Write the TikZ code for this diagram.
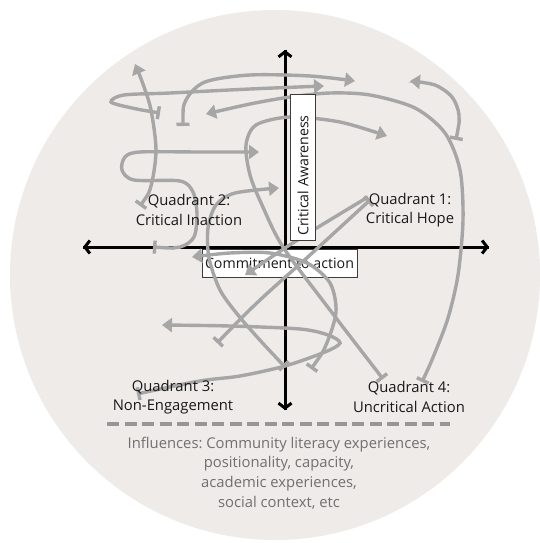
\documentclass[tikz,border=0pt]{standalone}
\usepackage{fontspec}
\setmainfont{Open Sans}
\usetikzlibrary{arrows.meta}
\frenchspacing

\definecolor{disc}{RGB}{238,235,233}
\definecolor{scribble}{RGB}{166,166,166}
\definecolor{dashgray}{RGB}{150,150,150}
\definecolor{influ}{RGB}{112,112,112}
\definecolor{boxline}{RGB}{60,60,60}

\tikzset{
  axis/.style={line width=3pt, black, -{Straight Barb[length=5pt,width=13pt]}},
  path/.style={line width=3.4pt, scribble, line cap=butt},
  tri/.style={path, -{Triangle[length=10pt,width=14pt]}},
  bartri/.style={path, {Bar[width=13pt]}-{Triangle[length=10pt,width=14pt]}},
  barbar/.style={path, {Bar[width=13pt]}-{Bar[width=13pt]}},
  quad/.style={font=\fontsize{14.8}{19.5}\selectfont, align=center, text=black!90},
  labelbox/.style={draw=boxline, line width=0.8pt, fill=white},
  labeltext/.style={font=\fontsize{14.2}{16}\selectfont, text=black!90, inner sep=0pt},
  influence/.style={font=\fontsize{14.8}{19.7}\selectfont, align=center, text=influ}
}

\begin{document}
\begin{tikzpicture}[x=1pt, y=-1pt]
  \useasboundingbox (0,0) rectangle (539,543);
  \fill[disc] (275,275) circle[radius=265pt];

  % axes
  \coordinate (yb) at (285,410);
  \coordinate (yt) at (285,50);
  \coordinate (xl) at (83,247);
  \coordinate (xr) at (489,247);
  \draw[axis] (yb) -- (yt);
  \draw[axis] (xr) -- (xl);
  \draw[axis] (xl) -- (xr);
  \draw[axis] (yt) -- (yb);

  % horizontal-axis label box (underneath the scribbles)
  \draw[labelbox] (202,249) rectangle (357,277);
  \node[labeltext] (commit) at (279.5,263.5) {Commitment to action};

  % free ends of the scribbled paths
  \coordinate (a1) at (140,206);  \coordinate (a2) at (135,64);
  \coordinate (b1) at (160,113);  \coordinate (b2) at (324,86);
  \coordinate (c1) at (183,126);  \coordinate (c2) at (355,81);
  \coordinate (d1) at (422,382);  \coordinate (d2) at (206,114);
  \coordinate (e1) at (153,247);  \coordinate (e2) at (259,152);
  \coordinate (f1) at (383,379);  \coordinate (f2) at (387,136);
  \coordinate (g1) at (456,140);  \coordinate (g2) at (410,81);
  \coordinate (h1) at (285,367);  \coordinate (h2) at (279,188);
  \coordinate (q1) at (368,197);  \coordinate (i2) at (245,275);
  \coordinate (j1) at (217,343);  \coordinate (q1b) at (370,200);
  \coordinate (k1) at (137,394);  \coordinate (k2) at (162,325);
  \coordinate (m1) at (311,369);  \coordinate (m2) at (192,257);

  % scribbled paths
  \draw[bartri] plot[smooth] coordinates {(a1) (151,186) (156,150) (151,110) (143,84) (a2)};
  \draw[bartri] plot[smooth] coordinates {(b1) (132,108) (111,102) (124,95) (170,93) (250,89) (b2)};
  \draw[bartri] plot[smooth] coordinates {(c1) (186,100) (205,82) (250,75) (310,76) (c2)};
  \draw[bartri] plot[smooth] coordinates {(d1) (434,355) (448,318) (458,275) (463,220) (460,170) (445,133) (415,108) (370,95) (330,93) (290,97) (250,104) (d2)};
  \draw[bartri] plot[smooth] coordinates {(e1) (180,247) (194,237) (197,214) (193,192) (180,181) (134,180) (122,170) (125,157) (140,152) (200,152) (e2)};
  \draw[bartri] plot[smooth] coordinates {(f1) (330,310) (283,247) (262,205) (250,175) (246,145) (256,125) (290,117) (340,122) (f2)};
  \draw[bartri] plot[smooth] coordinates {(g1) (459,115) (452,97) (435,85) (g2)};
  \draw[bartri] plot[smooth] coordinates {(h1) (258,338) (238,315) (220,290) (209,258) (208,228) (216,205) (235,193) (h2)};
  \draw[tri] plot[smooth] coordinates {(q1) (320,226) (285,248) (i2)};
  \draw[barbar] plot[smooth] coordinates {(j1) (260,300) (310,255) (q1b)};
  \draw[bartri] plot[smooth] coordinates {(k1) (200,381) (240,376) (285,366) (325,352) (340,343) (328,335) (300,329) (230,326) (k2)};
  \draw[bartri] plot[smooth] coordinates {(m1) (326,345) (336,312) (330,283) (307,263) (270,253) (230,253) (m2)};

  % vertical-axis label box (over the scribbles)
  \draw[labelbox] (290,94) rectangle (315,240);
  \node[labeltext, rotate=90, anchor=west] (aware) at (303,236) {Critical Awareness};

  % quadrant labels
  \node[quad] (q2) at (189,210) {Quadrant 2:\\Critical Inaction};
  \node[quad] (q1n) at (410,210) {Quadrant 1:\\Critical Hope};
  \node[quad] (q3) at (173,397) {Quadrant 3:\\Non-Engagement};
  \node[quad] (q4) at (409,397) {Quadrant 4:\\Uncritical Action};

  % divider and influences
  \coordinate (dl) at (107,424);
  \coordinate (dr) at (450,424);
  \draw[dashgray, line width=3.5pt, dash pattern=on 12pt off 5.5pt] (dl) -- (dr);
  \node[influence] (infl) at (279,473) {Influences: Community literacy experiences,\\positionality, capacity,\\academic experiences,\\social context, etc};
\end{tikzpicture}
\end{document}
